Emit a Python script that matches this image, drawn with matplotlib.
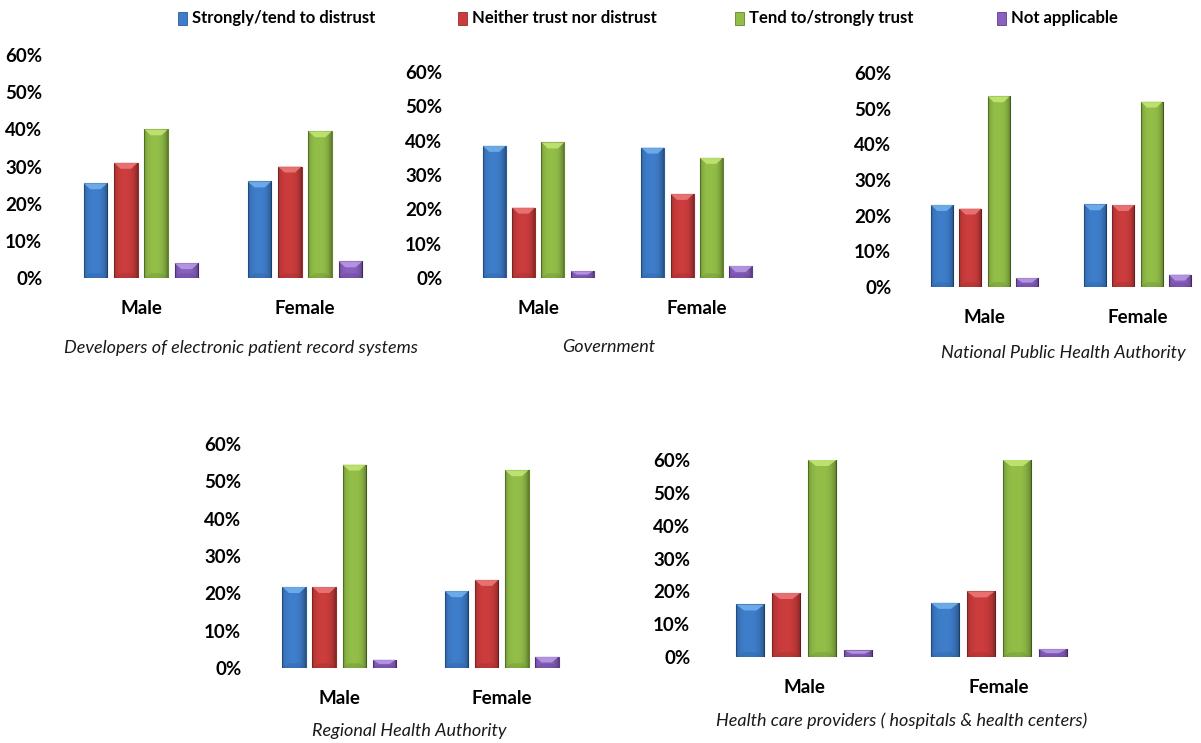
import numpy as np
import matplotlib
matplotlib.use("Agg")
import matplotlib.pyplot as plt
from matplotlib import font_manager
from matplotlib.patches import Rectangle, Polygon
from matplotlib.ticker import FuncFormatter

# ---- data -------------------------------------------------------------
groups = ["Male", "Female"]
series = ["Strongly/tend to distrust", "Neither trust nor distrust",
          "Tend to/strongly trust", "Not applicable"]

developers_male = [25.5, 31.0, 40.0, 4.0]
developers_female = [26.0, 30.0, 39.5, 4.5]
government_male = [38.5, 20.5, 39.5, 2.0]
government_female = [38.0, 24.5, 35.0, 3.5]
national_male = [23.0, 22.0, 53.5, 2.5]
national_female = [23.2, 23.0, 52.0, 3.5]
regional_male = [21.7, 21.7, 54.5, 2.2]
regional_female = [20.6, 23.6, 53.0, 3.0]
providers_male = [16.0, 19.5, 66.0, 2.0]
providers_female = [16.5, 20.0, 67.0, 2.4]

panel_titles = ["Developers of electronic patient record systems",
                "Government",
                "National Public Health Authority",
                "Regional Health Authority",
                "Health care providers ( hospitals & health centers)"]

yticks = [0, 10, 20, 30, 40, 50, 60]

# ---- style ------------------------------------------------------------
available = {f.name for f in font_manager.fontManager.ttflist}
family = next((f for f in ["Lato", "Liberation Sans Narrow", "Open Sans"]
               if f in available), "DejaVu Sans")
plt.rcParams["font.family"] = [family, "DejaVu Sans"]

face = ["#3e7dca", "#cb3c3c", "#92be48", "#8a61bf"]
light = ["#74b2ee", "#ee7a7a", "#c4e876", "#bb9ce6"]
dark = ["#2a5c98", "#952c2c", "#63852c", "#5c3c8c"]

W, H = 1201, 743
fig = plt.figure(figsize=(W / 100, H / 100), dpi=100)


def px_axes(left, top, width, bottom):
    return fig.add_axes([left / W, 1 - bottom / H, width / W, (bottom - top) / H])


layout = [  # left, top, width, bottom in pixels
    (59, 55, 328, 278),
    (459, 72, 317, 278),
    (908, 73, 306, 287),
    (258, 444, 325, 668),
    (707, 460, 389, 657),
]
title_pos = [(241, 348), (609, 347), (1063, 353), (409, 731), (902, 721)]
panel_data = [
    (developers_male, developers_female),
    (government_male, government_female),
    (national_male, national_female),
    (regional_male, regional_female),
    (providers_male, providers_female),
]

bar_w = 0.145
step = 0.185
offsets = (np.arange(len(series)) - (len(series) - 1) / 2) * step

# subtle horizontal shading: darker towards both sides of every bar
n = 64
t = np.linspace(0, 1, n)
shade = np.zeros((1, n, 4))
edge = np.clip(np.abs(t - 0.45) / 0.55, 0, 1) ** 3
shade[0, :, 3] = edge * 0.35


def bevel_bar(ax, rect, k, ymax, axis_px):
    x, w = rect.get_x(), rect.get_width()
    h = min(rect.get_height(), ymax)
    img = ax.imshow(shade, extent=[x, x + w, 0, h], aspect="auto",
                    interpolation="bilinear", zorder=2.5)
    img.set_clip_path(rect)
    dh = min(6.0 * ymax / axis_px, h / 2)
    dx = w * 0.28
    ax.add_patch(Polygon([(x, h), (x + w, h), (x + w - dx, h - dh), (x + dx, h - dh)],
                         closed=True, facecolor=light[k], edgecolor="none",
                         alpha=0.85, zorder=3))
    ax.add_patch(Polygon([(x, 0), (x + w, 0), (x + w - dx, dh * 0.8), (x + dx, dh * 0.8)],
                         closed=True, facecolor=dark[k], edgecolor="none",
                         alpha=0.3, zorder=3))


for (l, tp, wd, bt), (male, female), title, (tx, ty) in zip(layout, panel_data,
                                                           panel_titles, title_pos):
    ax = px_axes(l, tp, wd, bt)
    values = np.array([male, female])
    x = np.arange(len(groups))
    for k in range(len(series)):
        bars = ax.bar(x + offsets[k], values[:, k], width=bar_w, color=face[k],
                      edgecolor=dark[k], linewidth=0.8, zorder=2)
        for r in bars:
            bevel_bar(ax, r, k, 60, bt - tp)
    ax.set_xlim(-0.5, 1.5)
    ax.set_ylim(0, 60)
    ax.set_xticks(x)
    ax.set_xticklabels(groups, fontsize=13.5, fontweight="bold")
    ax.set_yticks(yticks)
    ax.yaxis.set_major_formatter(FuncFormatter(lambda v, p: f"{v:.0f}%"))
    for lab in ax.get_yticklabels():
        lab.set_fontweight("bold")
        lab.set_fontsize(13.5)
    ax.tick_params(axis="y", length=0, pad=12)
    ax.tick_params(axis="x", length=0, pad=16)
    for s in ax.spines.values():
        s.set_visible(False)
    fig.text(tx / W, 1 - ty / H, title, fontsize=13, style="italic",
             ha="center", va="center", color="#1a1a1a")

# legend across the top
legend_pos = [178, 458, 735, 997]
for k, (lx, name) in enumerate(zip(legend_pos, series)):
    fig.patches.append(Rectangle((lx / W, 1 - 25 / H), 9 / W, 13 / H,
                                 transform=fig.transFigure, facecolor=face[k],
                                 edgecolor=dark[k], linewidth=0.6))
    fig.text((lx + 14) / W, 1 - 18 / H, name, fontsize=12, fontweight="bold",
             ha="left", va="center")

fig.savefig("out.png", dpi=100, facecolor="white")
